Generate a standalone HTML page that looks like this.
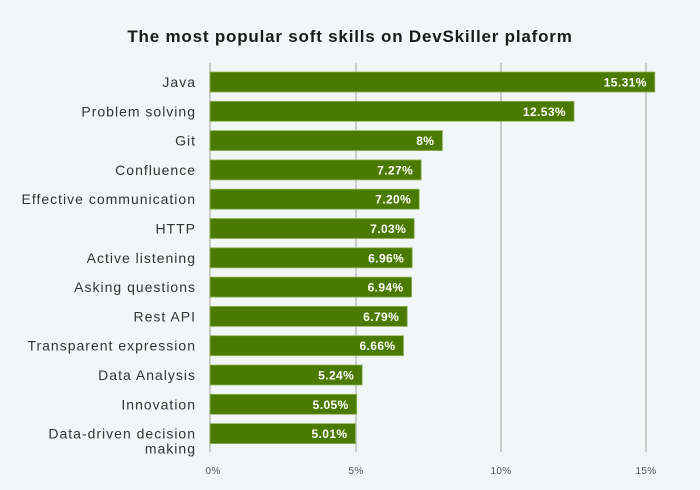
<!DOCTYPE html><html><head><style>
body{margin:0;background:#f1f6f7;}
svg{display:block;font-family:"Liberation Sans",sans-serif;}
</style></head><body>
<svg width="700" height="490" xmlns="http://www.w3.org/2000/svg">
<rect width="700" height="490" fill="#f1f6f7"/>
<text x="350" y="42" text-anchor="middle" font-size="17" font-weight="bold" fill="#1a1a1a" letter-spacing="0.8">The most popular soft skills on DevSkiller plaform</text>
<g stroke="#bdbdbd" stroke-width="1.5">
<line x1="210" y1="63" x2="210" y2="452"/><line x1="356" y1="63" x2="356" y2="452"/>
<line x1="501" y1="63" x2="501" y2="452"/><line x1="646" y1="63" x2="646" y2="452"/>
</g>
<g font-size="10" fill="#555" text-anchor="middle" letter-spacing="0.3">
<text x="213" y="474">0%</text><text x="356" y="474">5%</text><text x="501" y="474">10%</text><text x="646" y="474">15%</text>
</g>
<g fill="#4a7a00" stroke="#8fb35a" stroke-width="0.8">
<rect x="210" y="72" width="444.8" height="20"/>
<rect x="210" y="101.3" width="364" height="20"/>
<rect x="210" y="130.6" width="232.4" height="20"/>
<rect x="210" y="159.9" width="211.2" height="20"/>
<rect x="210" y="189.2" width="209.2" height="20"/>
<rect x="210" y="218.5" width="204.2" height="20"/>
<rect x="210" y="247.8" width="202.2" height="20"/>
<rect x="210" y="277.1" width="201.6" height="20"/>
<rect x="210" y="306.4" width="197.2" height="20"/>
<rect x="210" y="335.7" width="193.5" height="20"/>
<rect x="210" y="365" width="152.2" height="20"/>
<rect x="210" y="394.3" width="146.7" height="20"/>
<rect x="210" y="423.6" width="145.5" height="20"/>
</g>
<g font-size="12" font-weight="bold" fill="#fff" text-anchor="end" letter-spacing="0.4">
<text x="646.8" y="86.5">15.31%</text>
<text x="566" y="115.8">12.53%</text>
<text x="434.4" y="145.1">8%</text>
<text x="413.2" y="174.4">7.27%</text>
<text x="411.2" y="203.7">7.20%</text>
<text x="406.2" y="233">7.03%</text>
<text x="404.2" y="262.3">6.96%</text>
<text x="403.6" y="291.6">6.94%</text>
<text x="399.2" y="320.9">6.79%</text>
<text x="395.5" y="350.2">6.66%</text>
<text x="354.2" y="379.5">5.24%</text>
<text x="348.7" y="408.8">5.05%</text>
<text x="347.5" y="438.1">5.01%</text>
</g>
<g font-size="14" fill="#333" text-anchor="end" letter-spacing="1">
<text x="196" y="87">Java</text>
<text x="196" y="116.3">Problem solving</text>
<text x="196" y="145.6">Git</text>
<text x="196" y="174.9">Confluence</text>
<text x="196" y="204.2">Effective communication</text>
<text x="196" y="233.5">HTTP</text>
<text x="196" y="262.8">Active listening</text>
<text x="196" y="292.1">Asking questions</text>
<text x="196" y="321.4">Rest API</text>
<text x="196" y="350.7">Transparent expression</text>
<text x="196" y="380">Data Analysis</text>
<text x="196" y="409.3">Innovation</text>
<text x="196" y="438.6">Data-driven decision</text>
<text x="196" y="453.6">making</text>
</g>
</svg></body></html>
